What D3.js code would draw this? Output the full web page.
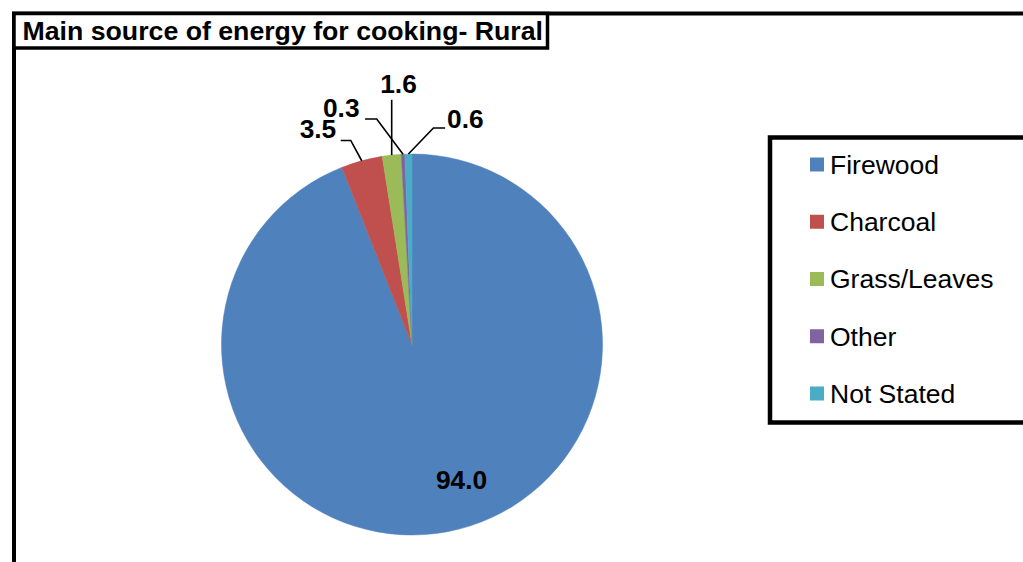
<!DOCTYPE html>
<html>
<head>
<meta charset="utf-8">
<script src="https://cdn.jsdelivr.net/npm/d3@7"></script>
<style>
  html, body { margin: 0; padding: 0; background: #fff; }
  svg { display: block; }
  text { font-family: "Liberation Sans", Arial, sans-serif; fill: #000; }
</style>
</head>
<body>
<svg id="chart" width="1023" height="562"></svg>
<script>
// ---- data ----
const title = "Main source of energy for cooking- Rural";
const categories = ["Firewood", "Charcoal", "Grass/Leaves", "Other", "Not Stated"];
const values = [94.0, 3.5, 1.6, 0.3, 0.6];
const valueLabels = ["94.0", "3.5", "1.6", "0.3", "0.6"];
const colors = ["#4F81BD", "#C0504D", "#9BBB59", "#8064A2", "#4BACC6"];

// ---- layout ----
const W = 1023, H = 562;
const svg = d3.select("#chart");
const cx = 412, cy = 344.5, R = 190.5;
const labelFont = 26.3, titleFont = 26.7, legendFont = 26.5;

// outer frame
svg.append("rect").attr("x", 14).attr("y", 13.5).attr("width", W + 20).attr("height", H + 20)
  .attr("fill", "none").attr("stroke", "#000").attr("stroke-width", 4);

// title box
svg.append("rect").attr("x", 14).attr("y", 13.5).attr("width", 533.5).attr("height", 34.5)
  .attr("fill", "#fff").attr("stroke", "#000").attr("stroke-width", 3.5);
svg.append("text")
  .attr("x", 22.5).attr("y", 39.8)
  .attr("font-size", titleFont).attr("font-weight", "bold")
  .text(title);

// pie
const pie = d3.pie().sort(null).value(d => d).startAngle(0).endAngle(2 * Math.PI);
const arcs = pie(values);
const arc = d3.arc().innerRadius(0).outerRadius(R);
const edgeArc = d3.arc().innerRadius(R).outerRadius(R);

const g = svg.append("g").attr("transform", `translate(${cx},${cy})`);
g.selectAll("path.slice").data(arcs).enter().append("path")
  .attr("class", "slice")
  .attr("d", arc)
  .attr("fill", (d, i) => colors[i])
  .attr("stroke", (d, i) => colors[i])
  .attr("stroke-width", 0.5);

// label layout (offsets relative to slice edge point)
const labelLayout = [
  null,
  { ex: -11, ey: -20.3, tx: -10, anchor: "end", dx: -4.5, dy: -2.7 },
  { ex: 0, ey: -55.3, tx: 0, anchor: "middle", dx: 6.8, dy: -6.6 },
  { ex: -26.3, ey: -35.2, tx: -11.7, anchor: "end", dx: -5.5, dy: -1.8 },
  { ex: 25, ey: -26, tx: 11.7, anchor: "start", dx: 2, dy: 0 }
];

arcs.forEach((d, i) => {
  const L = labelLayout[i];
  if (!L) {
    const ang = 159.8 * Math.PI / 180, rr = R * 0.76;
    const px = Math.sin(ang) * rr, py = -Math.cos(ang) * rr;
    g.append("text")
      .attr("x", px - 0.5).attr("y", py + 9)
      .attr("text-anchor", "middle").attr("font-size", labelFont).attr("font-weight", "bold")
      .text(valueLabels[i]);
    return;
  }
  const [ax, ay] = edgeArc.centroid(d);
  const ex = ax + L.ex, ey = ay + L.ey;
  const tx = ex + L.tx;
  g.append("polyline")
    .attr("points", `${ax},${ay} ${ex},${ey} ${tx},${ey}`)
    .attr("fill", "none").attr("stroke", "#000").attr("stroke-width", 1.6);
  g.append("text")
    .attr("x", tx + L.dx).attr("y", ey + L.dy)
    .attr("text-anchor", L.anchor).attr("font-size", labelFont).attr("font-weight", "bold")
    .text(valueLabels[i]);
});

// legend
svg.append("rect").attr("x", 770).attr("y", 137.5).attr("width", 300).attr("height", 285)
  .attr("fill", "#fff").attr("stroke", "#000").attr("stroke-width", 4.5);
const ly = d3.scalePoint().domain(categories).range([164.5, 393.5]);
const leg = svg.append("g").selectAll("g").data(categories).enter().append("g")
  .attr("transform", d => `translate(810,${ly(d)})`);
leg.append("rect").attr("x", 0).attr("y", -7).attr("width", 14).attr("height", 14)
  .attr("fill", (d, i) => colors[i]);
leg.append("text")
  .attr("x", 20).attr("y", 9.3)
  .attr("font-size", legendFont)
  .text(d => d);
</script>
</body>
</html>
